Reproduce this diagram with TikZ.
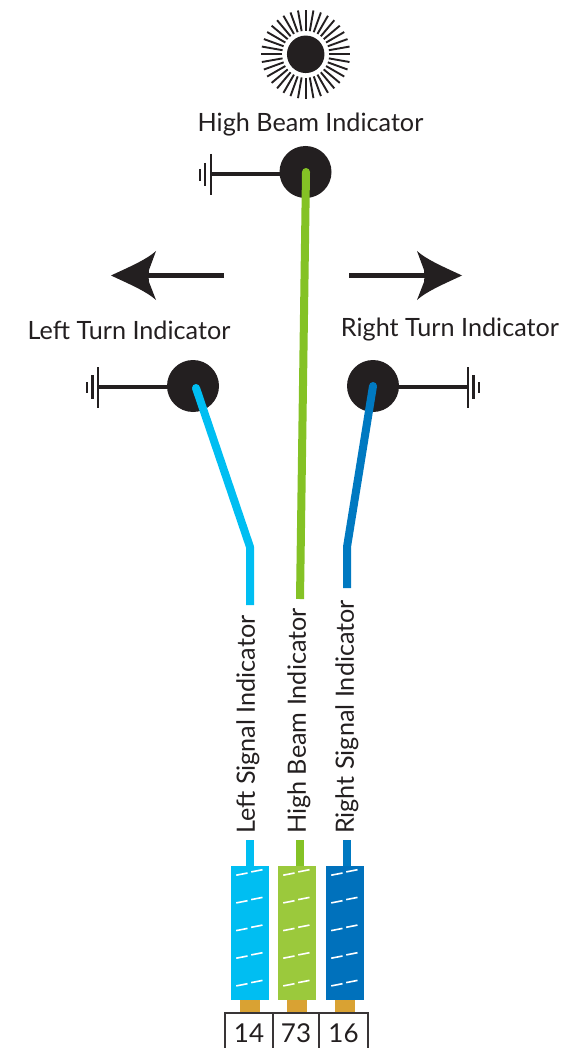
\documentclass[tikz,border=0pt]{standalone}
\usepackage{fontspec}
\setmainfont{Lato}
\definecolor{ink}{HTML}{231F20}
\definecolor{cyanw}{HTML}{00BEF2}
\definecolor{greenw}{HTML}{84C225}
\definecolor{bluew}{HTML}{0079C1}
\definecolor{cyanb}{HTML}{00BEF2}
\definecolor{greenb}{HTML}{9BC93C}
\definecolor{blueb}{HTML}{0071BC}
\definecolor{goldc}{HTML}{D9A233}
\tikzset{
 lamp/.style={circle,fill=ink,minimum size=52pt,inner sep=0pt,draw=none},
 lab/.style={font=\fontsize{25.2}{28}\selectfont,text=ink,inner sep=0pt},
 vlab/.style={lab,rotate=90,anchor=west},
 wire/.style={line width=8pt,line join=round},
 stub/.style={line width=8pt},
 gnd/.style={ink,line width=4pt},
 shaft/.style={ink,line width=5pt},
 gndbar/.style={ink,line width=2.2pt},
 block/.style={minimum width=38pt,minimum height=134pt,inner sep=0pt,anchor=north west,draw=none},
 pin/.style={fill=goldc,minimum width=20pt,minimum height=12pt,inner sep=0pt,anchor=north,draw=none},
 cell/.style={font=\fontsize{26}{28}\selectfont,text=ink,inner sep=0pt},
 arrowhead/.style={fill=ink,draw=none},
 tick/.style={white,line width=1.6pt},
}
\newcommand{\ticks}[1]{%
 \foreach \yy in {873.5,901.2,928.9,956.5,984.2}{
  \draw[tick] ([xshift=-14pt]#1.north |- 0,\yy+1.7) -- ++(11.3,-2.2);
  \draw[tick] ([xshift=1pt]#1.north |- 0,\yy-1.6) -- ++(11.3,-2.2);
 }}
\begin{document}
\begin{tikzpicture}[x=1pt,y=-1pt]
\useasboundingbox (0,0) rectangle (574,1048);
% sun
\node[circle,fill=ink,minimum size=37.5pt,inner sep=0pt] (sun) at (305.7,54.3) {};
\foreach \a in {0,10,...,350}{
 \draw[ink,line width=1.9pt] (sun.center) ++(\a:23.5) -- ++(\a:21);
}
% lamps
\node[lamp] (hi) at (305.5,172) {};
\node[lamp] (lt) at (193,386) {};
\node[lamp] (rt) at (373,386) {};
\node[lab] (hil) at (310.5,125) {High Beam Indicator};
\node[lab] (ltl) at (129,330) {Left Turn Indicator};
\node[lab] (rtl) at (450,330) {Right Turn Indicator};
% grounds
\coordinate (g1) at (211,174);
\coordinate (g2) at (98,387);
\coordinate (g3) at (468,387);
\draw[gnd] (g1 -| hi.center) -- (g1);
\draw[gnd] (g2 -| lt.center) -- (g2);
\draw[gnd] (g3 -| rt.center) -- (g3);
\draw[gndbar] (211,154)--(211,195) (205,163)--(205,186) (200,169)--(200,181);
\draw[gndbar] (98,367)--(98,408) (92.5,375)--(92.5,399) (87,382)--(87,393);
\draw[gndbar] (468,367)--(468,408) (473.5,375)--(473.5,399) (479,382)--(479,393);
% arrows
\coordinate (al) at (224,276);
\coordinate (alt) at (140,276);
\coordinate (ar) at (349,276);
\coordinate (art) at (433,276);
\draw[shaft] (al) -- (alt);
\draw[shaft] (ar) -- (art);
\fill[arrowhead] (111,275.5) .. controls (128,267.5) and (146,260) .. (156,251) -- (149,270) -- (148.5,276) -- (149,282) -- (156,300) .. controls (146,291) and (128,283.5) .. (111,275.5) -- cycle;
\fill[arrowhead] (462,275.5) .. controls (445,267.5) and (427,260) .. (417,251) -- (424,270) -- (424.5,276) -- (424,282) -- (417,300) .. controls (427,291) and (445,283.5) .. (462,275.5) -- cycle;
% blocks
\node[block,fill=cyanb] (bc) at (231,866) {};
\node[block,fill=greenb] (bg) at (278,866) {};
\node[block,fill=blueb] (bb) at (326,866) {};
\node[pin] (pc) at (250,1000) {};
\node[pin] (pg) at (297,1000) {};
\node[pin] (pb) at (345,1000) {};
% wires
\coordinate (c0) at (196,388); \coordinate (c1) at (250,547); \coordinate (c2) at (250,605);
\coordinate (g00) at (306,172); \coordinate (g0) at (300,599);
\coordinate (b0) at (373,386); \coordinate (b1) at (347,547); \coordinate (b2) at (347,588);
\draw[wire,cyanw] (c0) -- (c1) -- (c2);
\draw[wire,greenw] (g00) -- (g0);
\draw[wire,bluew] (b0) -- (b1) -- (b2);
\fill[cyanw] (c0) circle (4pt);
\fill[greenw] (g00) circle (4pt);
\fill[bluew] (b0) circle (4pt);
\coordinate (sc) at (249.5,840); \coordinate (sg) at (299.5,840); \coordinate (sb) at (347,840);
\draw[stub,cyanw] (sc) -- (sc |- bc.north);
\draw[stub,greenw] (sg) -- (sg |- bg.north);
\draw[stub,bluew] (sb) -- (sb |- bb.north);
% labels
\node[vlab] (vc) at (248,834) {Left Signal Indicator};
\node[vlab] (vg) at (299,834) {High Beam Indicator};
\node[vlab] (vb) at (347,834) {Right Signal Indicator};
% ticks
\ticks{bc}\ticks{bg}\ticks{bb}
% table
\draw[ink!90,line width=1.5pt] (225,1048) -- (225,1013) -- (368,1013) -- (368,1048) (273,1013) -- (273,1048) (319,1013) -- (319,1048);
\node[cell] (n1) at (249,1033) {14};
\node[cell] (n2) at (296,1033) {73};
\node[cell] (n3) at (343.5,1033) {16};
\end{tikzpicture}
\end{document}
